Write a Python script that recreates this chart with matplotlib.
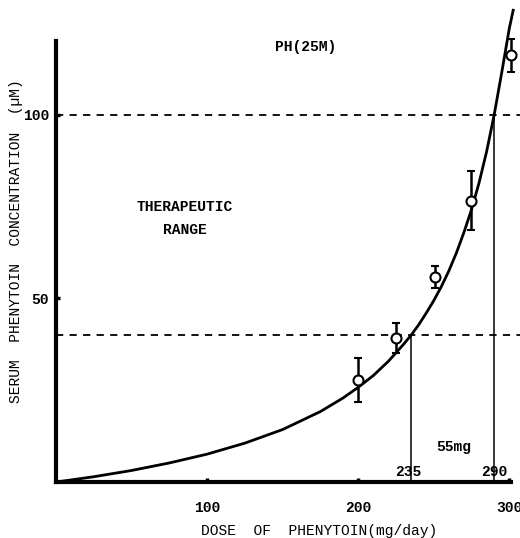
import matplotlib.pyplot as plt
import numpy as np

# observed means (dose mg/day, serum conc uM) with error bars
dose = [200, 225, 251, 275, 301]
conc = [27.8, 39.2, 55.9, 76.6, 116.3]
err = [6.0, 4.0, 3.0, 8.0, 4.5]

# fitted curve
curve_dose = [0, 25, 50, 75, 100, 125, 150, 175, 190, 200, 210, 220, 230, 235,
              240, 245, 250, 255, 260, 265, 270, 275, 280, 285, 290, 295, 300, 302.6]
curve_conc = [0, 1.45, 3.15, 5.2, 7.6, 10.6, 14.3, 19.2, 22.9, 25.8, 29.0, 32.9,
              37.5, 40.0, 42.8, 46.0, 49.4, 53.2, 57.5, 62.4, 68.0, 74.2, 81.5,
              90.0, 100.0, 111.5, 123.5, 128.5]

# therapeutic range and the doses where the curve meets it
range_lo, range_hi = 40, 100
dose_lo, dose_hi = 235, 290

xticks = [100, 200, 300]
yticks = [50, 100]

plt.rcParams['font.family'] = ['Liberation Mono', 'DejaVu Sans Mono']
plt.rcParams['font.weight'] = 'bold'
fs = 10.5

fig = plt.figure(figsize=(5.2, 5.38), dpi=100)
ax = fig.add_axes([0.1077, 0.104, 0.892, 0.894])

ax.plot(curve_dose, curve_conc, color='black', lw=2, clip_on=False, zorder=3)
ax.errorbar(dose, conc, yerr=err, fmt='o', color='black', mfc='white', mec='black',
            ms=7.2, mew=1.5, elinewidth=1.8, capsize=3, capthick=1.8, zorder=4)

# therapeutic range
for lev in (range_lo, range_hi):
    ax.axhline(lev, color='black', lw=1.3, ls=(0, (4, 3.5)), zorder=1)
ax.vlines([dose_lo, dose_hi], 0, [range_lo, range_hi], color='black', lw=1.1, zorder=2)

ax.text(165, 118.5, 'PH(25M)', ha='center', va='center', fontsize=fs)
ax.text(85, 75, 'THERAPEUTIC', ha='center', va='center', fontsize=fs)
ax.text(85, 68.7, 'RANGE', ha='center', va='center', fontsize=fs)
ax.text(263, 9.5, '55mg', ha='center', va='center', fontsize=fs)
ax.text(dose_lo - 2, 2.8, str(dose_lo), ha='center', va='center', fontsize=fs)
ax.text(dose_hi, 2.8, str(dose_hi), ha='center', va='center', fontsize=fs)

ax.set_xlim(0, 307)
ax.set_ylim(0, 131)
ax.set_xticks(xticks)
ax.set_yticks(yticks)
ax.tick_params(direction='in', length=3, width=2.5, labelsize=fs, pad=14)
ax.tick_params(axis='y', pad=5)

for side in ('top', 'right'):
    ax.spines[side].set_visible(False)
ax.spines['left'].set_linewidth(3)
ax.spines['bottom'].set_linewidth(3)
ax.spines['left'].set_bounds(0, 120)
ax.spines['bottom'].set_bounds(0, 301)

ax.set_xlabel('DOSE  OF  PHENYTOIN(mg/day)', fontsize=fs)
ax.set_ylabel('SERUM  PHENYTOIN  CONCENTRATION  (µM)', fontsize=fs)
ax.xaxis.set_label_coords(0.567, -0.088)
ax.yaxis.set_label_coords(-0.071, 0.501)

fig.savefig('out.png', dpi=100)
